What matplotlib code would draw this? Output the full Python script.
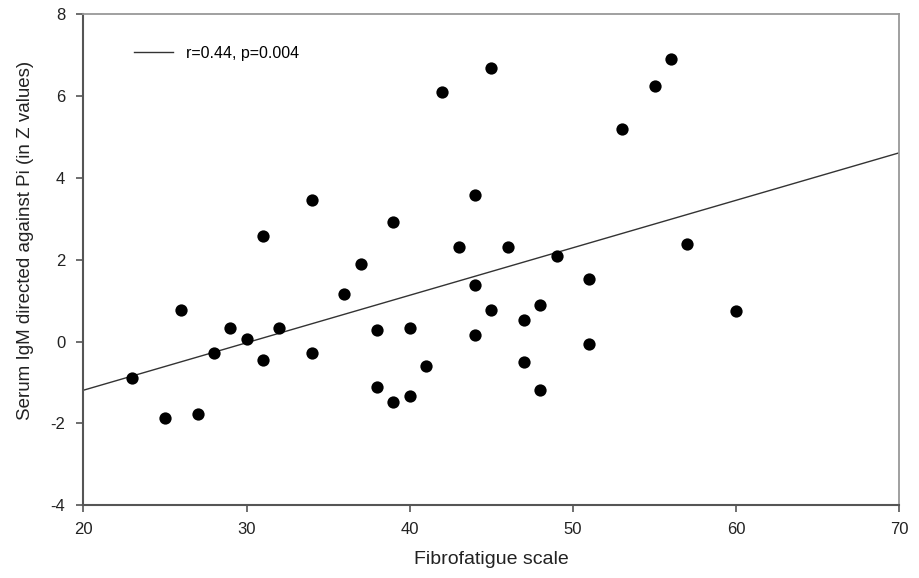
import matplotlib.pyplot as plt

plt.rcParams['font.family'] = ['Liberation Sans', 'DejaVu Sans']
plt.rcParams['axes.unicode_minus'] = False

# Fibrofatigue scale scores (x) and serum IgM against Pi in Z values (y)
fibro = [23, 25, 26, 27, 28, 29, 30, 31, 31, 32, 34, 34, 36, 37, 38, 38, 39, 39, 40, 40,
         41, 42, 43, 44, 44, 44, 45, 45, 46, 47, 47, 48, 48, 49, 51, 51, 53, 55, 56, 57, 60]
igm = [-0.90, -1.87, 0.77, -1.77, -0.28, 0.34, 0.05, 2.58, -0.46, 0.34, 3.46, -0.28, 1.17,
       1.90, 0.28, -1.12, 2.91, -1.47, 0.34, -1.33, -0.61, 6.09, 2.32, 3.57, 1.38, 0.17,
       6.69, 0.76, 2.31, 0.52, -0.51, 0.89, -1.18, 2.08, 1.53, -0.06, 5.19, 6.24, 6.89,
       2.38, 0.75]

# regression line
fit_slope = 0.116
fit_intercept = -3.51
fit_x = [20, 70]

fig = plt.figure(figsize=(9.2, 5.78), dpi=100)
ax = fig.add_axes([0.0906, 0.1258, 0.8869, 0.85])

fit_y = [fit_intercept + fit_slope * x for x in fit_x]
ax.plot(fit_x, fit_y, color='#333333', lw=1.0, label='r=0.44, p=0.004')
ax.scatter(fibro, igm, s=78, color='black', zorder=3, linewidths=0)

ax.set_xlim(20, 70)
ax.set_ylim(-4, 8)
ax.set_xticks(range(20, 71, 10))
ax.set_yticks(range(-4, 9, 2))
ax.tick_params(direction='out', length=5, width=1.2, color='#555555', labelsize=12,
               labelcolor='#222222')
ax.tick_params(axis='x', pad=7)
ax.tick_params(axis='y', pad=8)

for side in ['left', 'bottom']:
    ax.spines[side].set_color('#555555')
    ax.spines[side].set_linewidth(1.5)
for side in ['top', 'right']:
    ax.spines[side].set_color('#999999')
    ax.spines[side].set_linewidth(1.3)

ax.set_xlabel('Fibrofatigue scale', fontsize=14, labelpad=10, color='#222222')
ax.set_ylabel('Serum IgM directed against Pi (in Z values)', fontsize=13.5, color='#222222')
ax.yaxis.set_label_coords(-0.06, 0.54)

ax.legend(loc='upper left', bbox_to_anchor=(0.045, 0.965), frameon=False, fontsize=11.5,
          handlelength=2.4, handletextpad=0.8)

plt.savefig('out.png', dpi=100)
